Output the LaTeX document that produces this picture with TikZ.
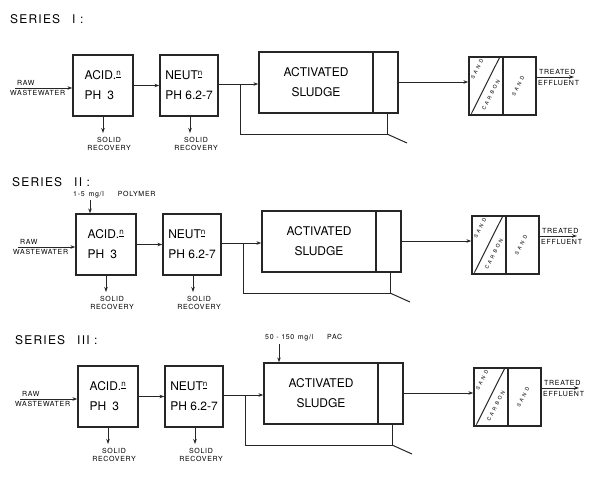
\documentclass[tikz,border=0pt]{standalone}
\usepackage{fontspec}
\setmainfont{TeX Gyre Heros}
\newfontfamily\lblfont[LetterSpace=10]{TeX Gyre Heros}
\newfontfamily\rotfont[LetterSpace=50]{TeX Gyre Heros}
\usetikzlibrary{arrows.meta}
\begin{document}
\begin{tikzpicture}[x=1pt,y=-1pt,
  ln/.style={draw=black!85, line width=1pt},
  arr/.style={ln, -{Stealth[length=5pt,width=3.5pt]}},
  box/.style={draw=black!85, line width=1.3pt, inner sep=0pt, align=left, font=\fontsize{12}{20}\selectfont},
  tiny/.style={font=\lblfont\fontsize{7}{8.5}\selectfont, inner sep=0pt},
  rot/.style={font=\rotfont\fontsize{5}{6}\selectfont, inner sep=0pt, rotate=63},
  title/.style={font=\lblfont\fontsize{12}{13}\selectfont, inner sep=0pt, anchor=west}]
\useasboundingbox[fill=white] (0,0) rectangle (589,477);
\newcommand{\drawseries}[3]{%
\begin{scope}[shift={(#2,#3)}]
  \node[box, minimum width=60pt, minimum height=61pt] (acid#1) at (103,85.5) {ACID.\textsuperscript{\underline{n}}\\PH\enspace 3};
  \node[box, minimum width=58pt, minimum height=61pt] (neut#1) at (189,85.5) {NEUT\textsuperscript{\underline{n}}\\PH 6.2-7};
  \node[box, minimum width=114pt, minimum height=61pt, align=center] (as#1) at (316,82.5) {ACTIVATED\\SLUDGE};
  \node[box, minimum width=25pt, minimum height=61pt] (clar#1) at (385.5,82.5) {};
  \node[box, minimum width=34pt, minimum height=58pt] (fl#1) at (486,86) {};
  \node[box, minimum width=33pt, minimum height=58pt] (fr#1) at (519.5,86) {};
  \draw[ln] ([shift={(3,-2)}]fl#1.south west) -- ([shift={(-4,1)}]fl#1.north east);
  \node[rot] (fls#1) at (477,69) {SAND};
  \node[rot] (flc#1) at (491,95) {CARBON};
  \node[rot] (frs#1) at (518,86) {SAND};
  % raw wastewater
  \coordinate (rawin#1) at (15,88);
  \node[tiny, anchor=south west] (raw#1) at (17,86) {RAW};
  \node[tiny, anchor=north west] (ww#1) at (10,90.5) {WASTEWATER};
  \draw[arr] (rawin#1) -- (acid#1.west |- rawin#1);
  \draw[arr] (acid#1.east) -- (neut#1.west);
  \coordinate (j#1) at (240,84);
  \draw[ln] (neut#1.east |- j#1) -- (j#1);
  \draw[arr] (j#1) -- (as#1.west |- j#1);
  \coordinate (rb#1) at (387,134);
  \coordinate (ws#1) at (407,143);
  \draw[ln] (clar#1.south -| rb#1) -- (rb#1) -| (j#1);
  \draw[ln] (rb#1) -- (ws#1);
  \coordinate (fin#1) at (469,82);
  \draw[arr] (clar#1.east |- fin#1) -- (fl#1.west |- fin#1);
  \coordinate (eff#1) at (574,77);
  \draw[arr] (fr#1.east |- eff#1) -- (eff#1);
  \node[tiny, anchor=south west] (tr#1) at (539,75) {TREATED};
  \node[tiny, anchor=north west] (ef#1) at (538,80) {EFFLUENT};
  % solid recovery
  \coordinate (sa#1) at (103,133);
  \coordinate (sn#1) at (190,133);
  \draw[arr] (acid#1.south -| sa#1) -- (sa#1);
  \draw[arr] (neut#1.south -| sn#1) -- (sn#1);
  \node[tiny, align=center, anchor=north] (sra#1) at (109,137) {SOLID\\RECOVERY};
  \node[tiny, align=center, anchor=north] (srn#1) at (196,137) {SOLID\\RECOVERY};
\end{scope}}
\drawseries{a}{0}{0}
\drawseries{b}{3}{159}
\drawseries{c}{5}{311}
\node[title] (t1) at (10,19) {SERIES\quad I :};
\node[title] (t2) at (12,182) {SERIES\quad II :};
\node[title] (t3) at (15,340) {SERIES\quad III :};
\node[tiny, anchor=west] (poly) at (73,195) {1-5\, mg/l\qquad POLYMER};
\coordinate (pin) at (90,200);
\draw[arr] (pin) -- (acidb.north -| pin);
\node[tiny, anchor=west] (pac) at (265,338) {50 - 150\enspace mg/l\qquad PAC};
\coordinate (pacin) at (279,344);
\draw[arr] (pacin) -- (asc.north -| pacin);
\end{tikzpicture}
\end{document}
